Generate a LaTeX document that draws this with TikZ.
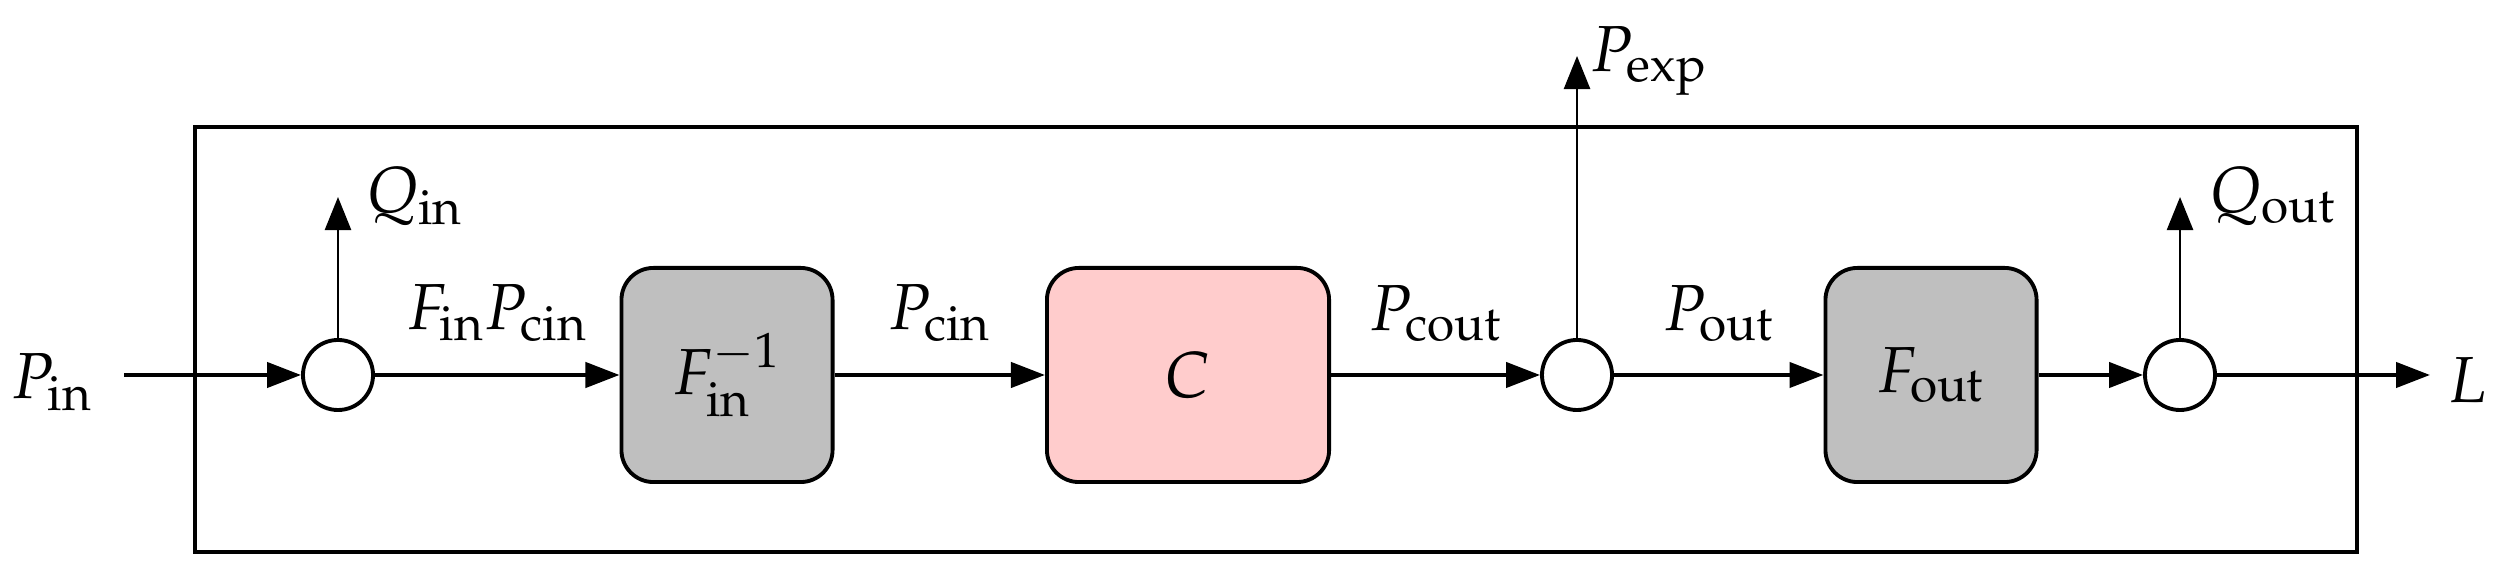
\documentclass[tikz,border=0pt]{standalone}
\usepackage{mathpazo}
\usetikzlibrary{arrows.meta}
\begin{document}
\begin{tikzpicture}[x=0.01cm,y=-0.01cm,
  every node/.style={font=\fontsize{18.5}{22}\selectfont},
  blk/.style={draw,line width=1.1pt,rounded corners=0.32cm,minimum width=2.11cm,minimum height=2.14cm,inner sep=0pt},
  jn/.style={circle,draw,line width=1.1pt,minimum size=0.70cm,inner sep=0pt},
  fl/.style={line width=1.2pt,-{Triangle[length=3.4mm,width=2.5mm]}},
  up/.style={line width=0.7pt,-{Triangle[length=3.3mm,width=2.6mm]}},
  lbl/.style={inner sep=0pt}]
\useasboundingbox (0,0) rectangle (2495,568);
\draw[line width=1.2pt] (195,127) rectangle (2357,552);
\node[lbl] (pin) at (52,382) {$P_{\mathrm{in}}$};
\coordinate (s) at (124,375);
\node[jn] (j1) at (338,375) {};
\node[blk,fill=black!25] (fi) at (727,375) {$F_{\mathrm{in}}^{-1}$};
\node[blk,fill=red!20,minimum width=2.82cm] (c) at (1188,375) {$C$};
\node[jn] (j2) at (1577,375) {};
\node[blk,fill=black!25] (fo) at (1931,375) {$F_{\mathrm{out}}$};
\node[jn] (j3) at (2180,375) {};
\coordinate (e) at (2430,375);
\node[lbl,anchor=west] (l) at (2447,380) {$L$};
\coordinate (q1) at (338,197);
\coordinate (pe) at (1577,56);
\coordinate (q2) at (2180,197);
\draw[fl] (s) -- (j1);
\draw[fl] (j1) -- node[above=9pt,lbl] (a1) {$F_{\mathrm{in}}P_{\mathrm{cin}}$} (fi);
\draw[fl] (fi) -- node[above=9pt,lbl] (a2) {$P_{\mathrm{cin}}$} (c);
\draw[fl] (c) -- node[above=9pt,lbl] (a3) {$P_{\mathrm{cout}}$} (j2);
\draw[fl] (j2) -- node[above=9pt,lbl] (a4) {$P_{\mathrm{out}}$} (fo);
\draw[fl] (fo) -- (j3);
\draw[fl] (j3) -- (e);
\draw[up] (j1) -- (q1);
\draw[up] (j2) -- (pe);
\draw[up] (j3) -- (q2);
\node[lbl,anchor=base west] (tq1) at (365,213) {$Q_{\mathrm{in}}$};
\node[lbl,anchor=base west] (tpe) at (1590,72) {$P_{\mathrm{exp}}$};
\node[lbl,anchor=base west] (tq2) at (2208,213) {$Q_{\mathrm{out}}$};
\end{tikzpicture}
\end{document}
